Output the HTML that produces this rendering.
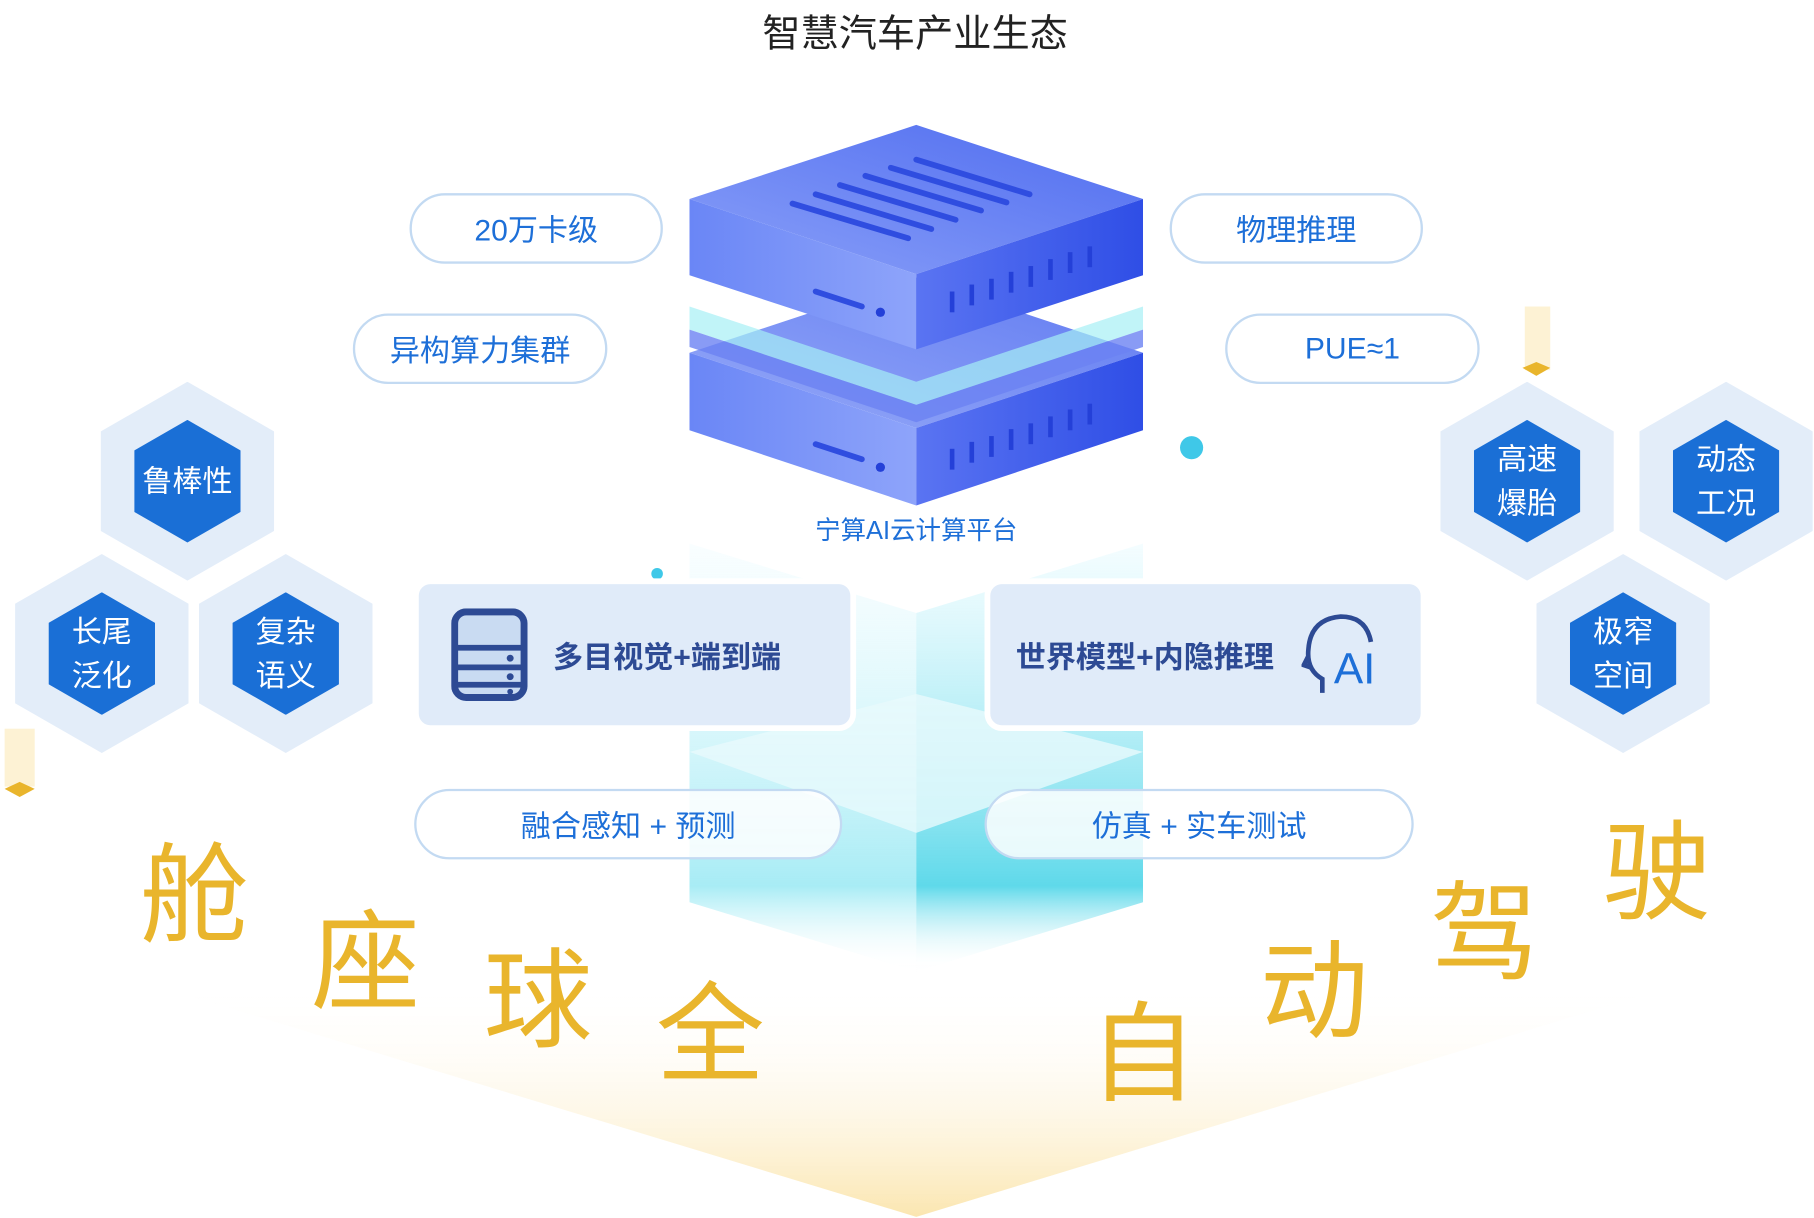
<!DOCTYPE html>
<html><head><meta charset="utf-8"><style>
html,body{margin:0;padding:0;background:#fff;overflow:hidden}
#wrap{width:1568px;height:1053px;position:relative;transform:scale(1.15689,1.15670);transform-origin:0 0;font-family:"Liberation Sans","Noto Sans CJK SC",sans-serif}
.abs{position:absolute}
.pill{position:absolute;border:2px solid #c3daf2;border-radius:32px;background:rgba(255,255,255,.85);color:#1d6fd8;font-size:26px;display:flex;align-items:center;justify-content:center;box-sizing:border-box}
.card{position:absolute;background:#e0ebf9;border-radius:10px;box-shadow:0 0 0 5px #fff;color:#2d4a94;font-weight:bold;font-size:26px;display:flex;align-items:center}
.yc{position:absolute;color:#e9b52c;font-size:94px;line-height:1;transform:translate(-50%,-50%)}
.hex{position:absolute;width:150px;height:172px;clip-path:polygon(50% 0,100% 25%,100% 75%,50% 100%,0 75%,0 25%);background:#e3edf9;transform:translate(-50%,-50%)}
.hex div{position:absolute;left:29px;top:33px;width:92px;height:106px;clip-path:polygon(50% 0,100% 25%,100% 75%,50% 100%,0 75%,0 25%);background:#1a6fd6;color:#fff;font-size:26px;line-height:38px;display:flex;align-items:center;justify-content:center;text-align:center}
</style></head><body><div id="wrap">
<svg class="abs" style="left:0;top:0" width="1568" height="1053">
<defs>
<linearGradient id="yg" x1="0" y1="0" x2="0" y2="1"><stop offset="0" stop-color="#fff" stop-opacity="0"/><stop offset=".4" stop-color="#fff" stop-opacity="0"/><stop offset="1" stop-color="#fbe6b0"/></linearGradient>
<linearGradient id="cy" x1="0" y1="0" x2="0" y2="1"><stop offset="0" stop-color="#e9fbff" stop-opacity=".5"/><stop offset=".8" stop-color="#5fd9ea"/><stop offset="1" stop-color="#fff" stop-opacity="0"/></linearGradient>
<linearGradient id="cy2" x1="0" y1="0" x2="0" y2="1"><stop offset="0" stop-color="#f0fcff" stop-opacity=".4"/><stop offset=".8" stop-color="#a8ecf5"/><stop offset="1" stop-color="#fff" stop-opacity="0"/></linearGradient>
<linearGradient id="tp" x1="0" y1="1" x2="1" y2="0"><stop offset="0" stop-color="#8aa0f8"/><stop offset="1" stop-color="#4f6cf0"/></linearGradient>
<linearGradient id="lf" x1="0" y1="0" x2="1" y2="0"><stop offset="0" stop-color="#6a86f6"/><stop offset="1" stop-color="#8ea4fa"/></linearGradient>
<linearGradient id="rf" x1="0" y1="0" x2="1" y2="0"><stop offset="0" stop-color="#5a74f2"/><stop offset="1" stop-color="#2f4ee6"/></linearGradient>
</defs>
<polygon points="62,720 62,830 792,1052 1520,830 1520,720" fill="url(#yg)"/>
<polygon points="596,470 792,530 792,840 596,780" fill="url(#cy2)"/>
<polygon points="792,530 988,470 988,780 792,840" fill="url(#cy)"/>
<polygon points="596,650 792,600 988,650 792,720" fill="#e8fafd" opacity=".8"/>
<polygon points="596,305 792,240 988,305 792,370" fill="url(#tp)" opacity=".9"/>
<polygon points="596,305 792,370 792,437 596,372" fill="url(#lf)"/>
<polygon points="792,370 988,305 988,372 792,437" fill="url(#rf)"/>
<polygon points="596,265 792,330 988,265 988,285 792,350 596,285" fill="#a6f0f5" opacity=".7"/>
<polygon points="596,285 792,350 988,285 988,300 792,365 596,300" fill="#6b82f2" opacity=".8"/>
<polygon points="596,172 792,108 988,172 792,237" fill="url(#tp)"/>
<polygon points="596,172 792,237 792,302 596,238" fill="url(#lf)"/>
<polygon points="792,237 988,172 988,238 792,302" fill="url(#rf)"/>
<g stroke="#2f4de0" stroke-width="5" stroke-linecap="round">
<line x1="685" y1="176" x2="785" y2="206"/><line x1="705" y1="168" x2="805" y2="198"/><line x1="726" y1="160" x2="826" y2="190"/><line x1="748" y1="152" x2="848" y2="182"/><line x1="770" y1="145" x2="870" y2="175"/><line x1="792" y1="138" x2="890" y2="168"/>
<line x1="705" y1="252" x2="745" y2="265"/><line x1="705" y1="384" x2="745" y2="397"/>
</g>
<g stroke="#2440d8" stroke-width="4">
<line x1="823" y1="252" x2="823" y2="270"/><line x1="840" y1="246" x2="840" y2="264"/><line x1="857" y1="241" x2="857" y2="259"/><line x1="874" y1="235" x2="874" y2="253"/><line x1="891" y1="230" x2="891" y2="248"/><line x1="908" y1="224" x2="908" y2="242"/><line x1="925" y1="218" x2="925" y2="236"/><line x1="942" y1="213" x2="942" y2="231"/>
<line x1="823" y1="388" x2="823" y2="406"/><line x1="840" y1="382" x2="840" y2="400"/><line x1="857" y1="377" x2="857" y2="395"/><line x1="874" y1="371" x2="874" y2="389"/><line x1="891" y1="366" x2="891" y2="384"/><line x1="908" y1="360" x2="908" y2="378"/><line x1="925" y1="354" x2="925" y2="372"/><line x1="942" y1="349" x2="942" y2="367"/>
</g>
<circle cx="761" cy="270" r="4" fill="#2440d8"/><circle cx="761" cy="404" r="4" fill="#2440d8"/>
<circle cx="1030" cy="387" r="10" fill="#3fc8e8"/>
<circle cx="568" cy="496" r="5" fill="#3fc8e8"/>
<rect x="1318" y="265" width="22" height="55" fill="#fbeab8" opacity=".6"/>
<polygon points="1316,318 1328,313 1340,318 1328,325" fill="#e9b52c"/>
<rect x="4" y="630" width="26" height="50" fill="#fbeab8" opacity=".6"/>
<polygon points="4,682 17,676 30,682 17,689" fill="#e9b52c"/>
</svg>
<div class="abs" style="left:0;width:1582px;top:2px;text-align:center;font-size:33px;color:#222">智慧汽车产业生态</div>
<div class="abs" style="left:0;width:1584px;top:441px;text-align:center;font-size:22px;color:#1d6fd8">宁算AI云计算平台</div>
<div class="pill" style="left:354px;top:167px;width:219px;height:61px">20万卡级</div>
<div class="pill" style="left:1011px;top:167px;width:219px;height:61px">物理推理</div>
<div class="pill" style="left:305px;top:271px;width:220px;height:61px">异构算力集群</div>
<div class="pill" style="left:1059px;top:271px;width:220px;height:61px">PUE≈1</div>
<div class="card" style="left:362px;top:505px;width:373px;height:122px">
<svg style="margin-left:28px" width="66" height="80" viewBox="0 0 66 80"><rect x="3" y="3" width="60" height="74" rx="10" fill="#c9dbf2" stroke="#2d4a94" stroke-width="6"/><line x1="3" y1="34" x2="63" y2="34" stroke="#2d4a94" stroke-width="5"/><line x1="3" y1="51" x2="63" y2="51" stroke="#2d4a94" stroke-width="5"/><line x1="3" y1="66" x2="63" y2="66" stroke="#2d4a94" stroke-width="5"/><circle cx="51" cy="43" r="3" fill="#2d4a94"/><circle cx="51" cy="59" r="3" fill="#2d4a94"/><circle cx="51" cy="72" r="2.5" fill="#2d4a94"/></svg>
<span style="margin-left:22px">多目视觉+端到端</span></div>
<div class="card" style="left:856px;top:505px;width:372px;height:122px">
<span style="margin-left:22px">世界模型+内隐推理</span>
<svg style="margin-left:24px" width="64" height="74" viewBox="0 0 64 74"><path d="M18 70 V58 Q4 50 6 32 Q8 6 34 4 Q56 4 60 26" fill="none" stroke="#2d4a94" stroke-width="4"/><path d="M6 38 L2 46 L8 48" fill="none" stroke="#2d4a94" stroke-width="4"/><text x="28" y="62" font-size="38" font-weight="normal" fill="#1d6fd8" font-family="Liberation Sans">AI</text></svg></div>
<div class="pill" style="left:358px;top:682px;width:370px;height:61px">融合感知 + 预测</div>
<div class="pill" style="left:851px;top:682px;width:371px;height:61px">仿真 + 实车测试</div>
<div class="hex" style="left:162px;top:416px"><div>鲁棒性</div></div>
<div class="hex" style="left:88px;top:565px"><div>长尾<br>泛化</div></div>
<div class="hex" style="left:247px;top:565px"><div>复杂<br>语义</div></div>
<div class="hex" style="left:1320px;top:416px"><div>高速<br>爆胎</div></div>
<div class="hex" style="left:1492px;top:416px"><div>动态<br>工况</div></div>
<div class="hex" style="left:1403px;top:565px"><div>极窄<br>空间</div></div>
<div class="yc" style="left:168px;top:775px">舱</div>
<div class="yc" style="left:316px;top:833px">座</div>
<div class="yc" style="left:465px;top:866px">球</div>
<div class="yc" style="left:614px;top:895px">全</div>
<div class="yc" style="left:988px;top:912px">自</div>
<div class="yc" style="left:1136px;top:858px">动</div>
<div class="yc" style="left:1283px;top:808px">驾</div>
<div class="yc" style="left:1432px;top:755px">驶</div>
</div></body></html>
